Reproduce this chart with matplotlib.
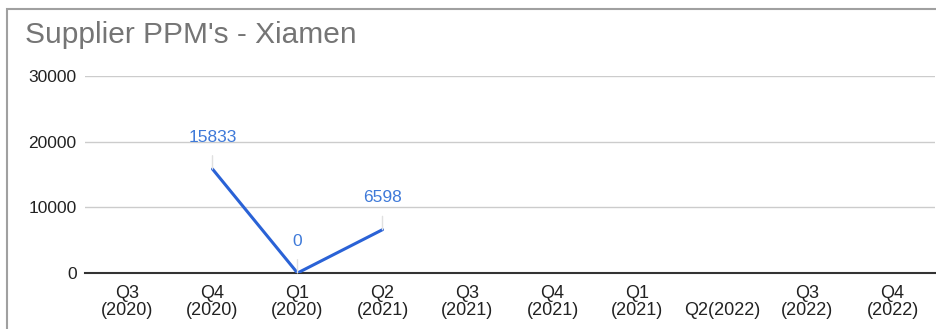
import matplotlib
matplotlib.use('Agg')
import matplotlib.pyplot as plt
from matplotlib.patches import Rectangle
import numpy as np

plt.rcParams['font.family'] = ['Liberation Sans', 'DejaVu Sans']

quarters = ['Q3\n(2020)', 'Q4\n(2020)', 'Q1\n(2020)', 'Q2\n(2021)', 'Q3\n(2021)',
            'Q4\n(2021)', 'Q1\n(2021)', 'Q2(2022)', 'Q3\n(2022)', 'Q4\n(2022)']
ppm = [np.nan, 15833, 0, 6598, np.nan, np.nan, np.nan, np.nan, np.nan, np.nan]
yticks = [0, 10000, 20000, 30000]

W, H = 936, 329
fig = plt.figure(figsize=(W / 100, H / 100), dpi=100)

# outer card border
fig.patches.append(Rectangle((7 / W, -0.1), 1.2, 1 - 9 / H + 0.1, transform=fig.transFigure,
                             fill=False, edgecolor='#a0a0a0', linewidth=1.5))

ax = fig.add_axes([85 / W, (H - 273) / H, 850 / W, (273 - 76) / H])
x = np.arange(len(quarters))
ax.plot(x, ppm, color='#2a62d6', linewidth=2.2, solid_capstyle='round', zorder=3)

for xi, v in zip(x, ppm):
    if np.isnan(v):
        continue
    ax.annotate(f'{v:.0f}', xy=(xi, v), xytext=(0, 23), textcoords='offset points',
                ha='center', va='center', color='#3f7ad9', fontsize=12.5,
                arrowprops=dict(arrowstyle='-', color='#e0e0e0', lw=1,
                                shrinkA=6, shrinkB=0), zorder=4)

ax.set_xlim(-0.5, len(quarters) - 0.5)
ax.set_ylim(0, 30000)
ax.set_yticks(yticks)
ax.set_yticklabels([str(t) for t in yticks], fontsize=12.5, color='#222222')
ax.set_xticks(x)
ax.set_xticklabels(quarters, fontsize=13, color='#222222', linespacing=1.02)
for lbl in ax.get_xticklabels():
    lbl.set_verticalalignment('bottom')
ax.tick_params(axis='x', length=0, pad=33)
ax.tick_params(axis='y', length=0, pad=6)

ax.grid(axis='y', color='#cccccc', linewidth=1)
ax.set_axisbelow(True)
for s in ['top', 'right', 'left']:
    ax.spines[s].set_visible(False)
ax.spines['bottom'].set_color('#333333')
ax.spines['bottom'].set_linewidth(1.5)
ax.spines['bottom'].set_zorder(2)

fig.text(25 / W, 1 - 43 / H, "Supplier PPM's - Xiamen", fontsize=21.5, color='#757575',
         ha='left', va='baseline')

fig.savefig('out.png', dpi=100)
